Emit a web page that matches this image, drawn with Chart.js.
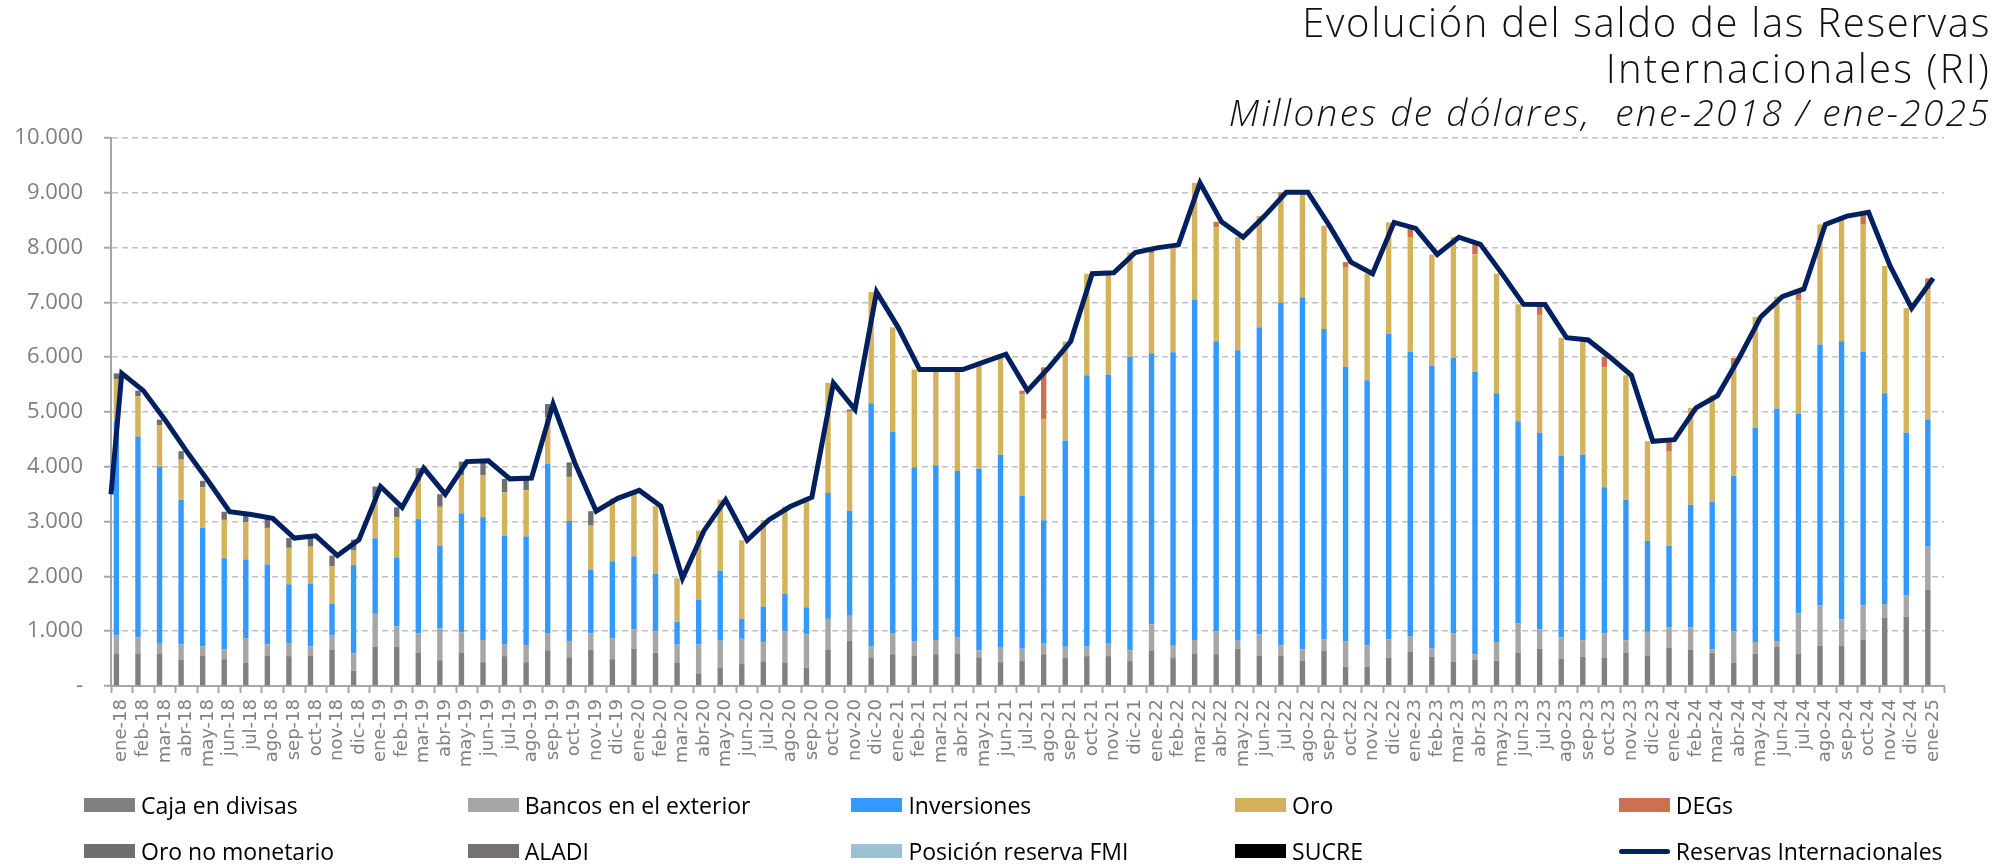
<!DOCTYPE html>
<html><head><meta charset="utf-8">
<script src="https://cdn.jsdelivr.net/npm/chart.js@4.4.1/dist/chart.umd.min.js"></script>
<style>
html,body{margin:0;padding:0;background:#fff;}
#wrap{position:relative;width:2003px;height:864px;overflow:hidden;}
canvas{position:absolute;left:0;top:0;}
.tl{position:absolute;right:12px;white-space:pre;font-family:"Open Sans",sans-serif;font-weight:300;color:#111;text-align:right;letter-spacing:2px;}
#t1{top:-1px;font-size:40px;line-height:46px;letter-spacing:1.7px;}
#t2{top:45px;font-size:40px;line-height:46px;letter-spacing:2.2px;}
#t3{top:89px;font-size:37px;line-height:46px;font-style:italic;letter-spacing:2.3px;}
.lg{position:absolute;display:flex;align-items:center;font-family:"Open Sans",sans-serif;font-size:23px;color:#000;white-space:nowrap;}
.sw{width:51px;height:14px;margin-right:6px;}
.sl{width:51px;height:5px;border-radius:3px;margin-right:6px;}
</style></head>
<body><div id="wrap">
<canvas id="c" width="2003" height="864"></canvas>
<div class="tl" id="t1">Evolución del saldo de las Reservas</div>
<div class="tl" id="t2">Internacionales (RI)</div>
<div class="tl" id="t3">Millones de dólares,  ene-2018 / ene-2025</div>
<div id="legend"></div>
</div>
<script>
const meses = ['ene','feb','mar','abr','may','jun','jul','ago','sep','oct','nov','dic'];
const anios = ['18','19','20','21','22','23','24','25'];
const categorias = [];
anios.forEach(a => meses.forEach(m => { if (categorias.length < 85) categorias.push(m + '-' + a); }));

const cajaDivisas = [595,595,595,475,560,490,420,560,545,560,665,280,
  715,715,610,470,610,435,545,435,650,525,665,490,
  685,610,420,230,330,400,450,420,335,660,820,510,
  580,560,580,595,525,435,455,580,510,545,545,455,
  650,510,595,580,680,549,549,457,640,354,348,512,
  622,530,439,476,457,604,677,494,530,512,604,561,
  695,659,604,427,591,713,591,732,732,841,1244,1262,
  1751];
const bancosExterior = [330,295,175,281,161,175,455,196,239,161,259,315,
  602,370,349,580,370,405,211,314,316,294,294,385,
  344,384,336,526,496,461,355,574,610,565,461,211,
  386,259,260,301,126,265,224,204,204,176,239,196,
  470,225,245,414,146,390,195,208,214,463,396,342,
  287,153,518,103,348,542,360,390,305,445,231,427,
  372,408,67,573,214,98,732,744,488,635,250,397,
  791];
const inversiones = [3905,3662,3236,2640,2164,1667,1436,1464,1072,1149,582,1611,
  1379,1261,2087,1506,2171,2241,1989,1982,3096,2192,1163,1401,
  1338,1058,413,820,1275,364,645,687,491,2297,1919,4440,
  3670,3173,3187,3026,3320,3516,2787,2241,3768,4951,4902,5357,
  4951,5357,6212,5295,5301,5609,6245,6429,5659,5009,4837,5575,
  5197,5164,5030,5149,4538,3686,3585,3318,3388,2670,2561,1659,
  1489,2238,2690,2838,3901,4252,3649,4756,5069,4630,3849,2963,
  2325];
const oro = [770,735,756,736,742,700,679,665,665,672,679,266,
  735,735,700,714,700,770,791,840,840,805,805,1149,
  1203,1228,796,1259,1299,1435,1580,1594,2009,2008,1807,2029,
  1909,1783,1748,1799,1944,1839,1856,1842,1803,1853,1854,1902,
  1821,1958,2128,2079,2063,2032,1919,1916,1887,1807,1944,2031,
  2087,2028,2203,2150,2182,2133,2150,2153,2092,2185,2274,1818,
  1730,1770,1939,1953,2029,2042,2066,2193,2286,2311,2322,2273,
  2367];
const degs = [0,0,0,0,0,0,0,0,0,0,0,0,
  0,0,0,0,0,0,0,0,0,0,0,0,
  0,0,0,0,0,0,0,0,0,0,0,0,
  0,0,0,54,0,0,68,948,0,0,0,0,
  103,0,0,102,0,0,102,0,0,102,0,0,
  157,0,0,182,0,0,188,0,0,193,0,0,
  209,0,0,194,0,0,207,0,0,228,0,0,
  206];
const oroNoMonetario = [105,103,98,153,118,148,140,175,179,198,195,198,
  209,179,229,230,244,259,244,224,243,264,263,0,
  0,0,0,0,0,0,0,0,0,0,38,0];
const aladi = [];
const posicionFMI = [];
const sucre = [];
const reservasInternacionales = [5705,5390,4860,4285,3745,3180,3130,3060,2700,2740,2380,2670,
  3640,3260,3975,3500,4095,4110,3780,3795,5145,4080,3190,3425,
  3570,3280,1965,2835,3400,2660,3030,3275,3445,5530,5045,7190,
  6545,5775,5775,5775,5915,6055,5390,5815,6285,7525,7540,7910,
  7995,8050,9180,8470,8190,8580,9010,9010,8400,7735,7525,8460,
  8350,7875,8190,8060,7525,6965,6960,6355,6315,6005,5670,4465,
  4495,5075,5300,5985,6735,7105,7245,8425,8575,8645,7665,6895,
  7440];
const saldoPrevio = 3500; // valor previo (dic-17) en el borde del eje
const yTicks = [0,1000,2000,3000,4000,5000,6000,7000,8000,9000,10000];

const xlMin = -0.5, xlMax = categorias.length - 0.5;
const lineData = [{x: xlMin, y: saldoPrevio}].concat(reservasInternacionales.map((v, i) => ({x: i, y: v})));

function fmt(v){ if (v === 0) return '-'; return String(v).replace(/\B(?=(\d{3})+(?!\d))/g, '.'); }

const barSeries = [
  ['Caja en divisas', cajaDivisas, '#808080'],
  ['Bancos en el exterior', bancosExterior, '#a6a6a6'],
  ['Inversiones', inversiones, '#3399ff'],
  ['Oro', oro, '#d4b25b'],
  ['DEGs', degs, '#cc7050'],
  ['Oro no monetario', oroNoMonetario, '#6f6f6f'],
  ['ALADI', aladi, '#767171'],
  ['Posición reserva FMI', posicionFMI, '#9dc0d3'],
  ['SUCRE', sucre, '#000000']
];
const datasets = barSeries.map(([label, data, color]) => ({
  type: 'bar', label, data, backgroundColor: color, borderWidth: 0,
  barPercentage: 0.5, categoryPercentage: 1.0, order: 1, stack: 'ri', xAxisID: 'x', yAxisID: 'y'
}));
datasets.push({
  type: 'line', label: 'Reservas Internacionales', data: lineData, xAxisID: 'xl', yAxisID: 'y',
  borderColor: '#002060', backgroundColor: '#002060', borderWidth: 5, pointRadius: 0, tension: 0,
  order: 0, stack: 'line', borderJoinStyle: 'miter', clip: 4
});

new Chart(document.getElementById('c'), {
  type: 'bar',
  data: { labels: categorias, datasets },
  options: {
    responsive: false, animation: false, devicePixelRatio: 1,
    layout: { padding: { top: 138, right: 59, left: 0, bottom: 0 } },
    plugins: { legend: { display: false }, tooltip: { enabled: false }, title: { display: false } },
    scales: {
      x: {
        stacked: true, offset: true,
        grid: { display: true, drawOnChartArea: false, drawTicks: true, tickLength: 7, tickColor: '#a6a6a6', tickWidth: 2, offset: true },
        border: { display: true, color: '#a6a6a6', width: 2 },
        ticks: { autoSkip: false, maxRotation: 90, minRotation: 90, padding: 6, color: '#808080',
          font: { family: 'DejaVu Sans', size: 18 } },
        afterFit: s => { s.height = 178; }
      },
      xl: { type: 'linear', display: false, min: xlMin, max: xlMax, offset: false },
      y: {
        stacked: true, min: 0, max: 10000,
        afterBuildTicks: s => { s.ticks = yTicks.map(v => ({value: v})); },
        grid: { color: '#c0c0c0', lineWidth: 1.5, tickLength: 7, tickColor: '#a6a6a6', tickWidth: 2 },
        border: { display: true, color: '#a6a6a6', width: 2, dash: [6, 4] },
        ticks: { padding: 21, color: '#7f7f7f', font: { family: 'Open Sans', size: 22 }, callback: v => fmt(v) },
        afterFit: s => { s.width = 111; }
      }
    }
  }
});

const lg = document.getElementById('legend');
const allItems = datasets.map(d => ({ label: d.label, color: d.type === 'line' ? d.borderColor : d.backgroundColor, line: d.type === 'line' }));
allItems.forEach((it, i) => {
  const col = i % 5, row = Math.floor(i / 5);
  const el = document.createElement('div');
  el.className = 'lg';
  el.style.left = (84 + col * 383.7) + 'px';
  el.style.top = (row === 0 ? 805 : 851) - 16 + 'px';
  el.style.height = '32px';
  const sw = document.createElement('span');
  sw.className = it.line ? 'sl' : 'sw';
  sw.style.background = it.color;
  const tx = document.createElement('span');
  tx.textContent = it.label;
  el.appendChild(sw); el.appendChild(tx);
  lg.appendChild(el);
});
</script>
</body></html>
